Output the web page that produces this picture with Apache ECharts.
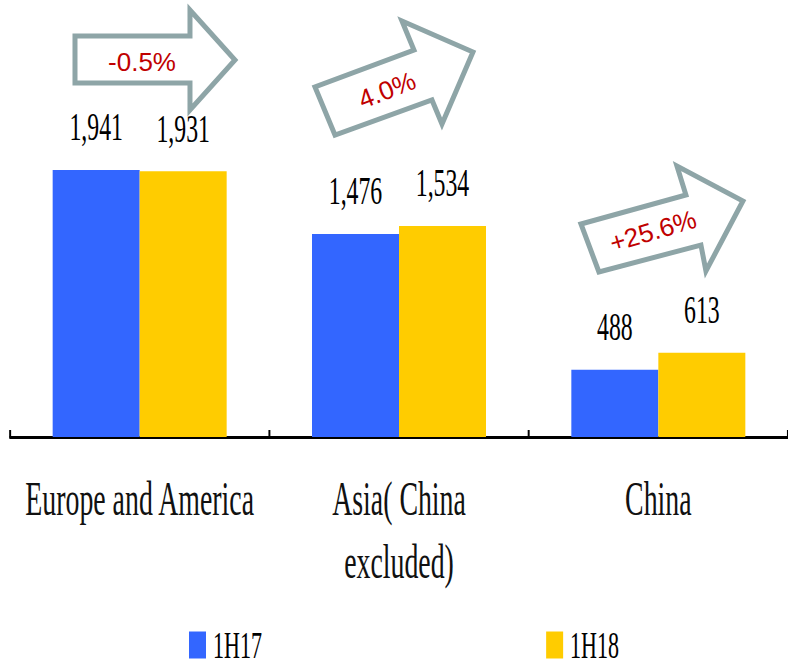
<!DOCTYPE html>
<html>
<head>
<meta charset="utf-8">
<script src="https://cdn.jsdelivr.net/npm/echarts@6/dist/echarts.min.js"></script>
<style>
html, body { margin: 0; padding: 0; overflow: hidden; background: #fff; width: 788px; height: 668px; }
#chart { position: absolute; left: 0; top: 0; height: 668px; transform-origin: 0 0; }
</style>
</head>
<body>
<div id="chart"></div>
<script>
// ---- data ----
var categories = ['Europe and America', 'Asia( China\nexcluded)', 'China'];
var seriesNames = ['1H17', '1H18'];
var values1H17 = [1941, 1476, 488];
var values1H18 = [1931, 1534, 613];
var growthLabels = ['-0.5%', '4.0%', '+25.6%'];

// the serif texts of the reference are horizontally condensed: draw the chart wider and squeeze it
var S = 0.58;
var W = 788 / S;
var el = document.getElementById('chart');
el.style.width = W + 'px';
el.style.transform = 'scaleX(' + S + ')';

var chart = echarts.init(el, null, { renderer: 'svg', width: W, height: 668 });

var serif = 'Liberation Serif';
var arrowColor = '#8EA5A7';
var redText = '#C00000';

function fmt(v) { return v.toLocaleString('en-US'); }

// decorative block arrows, in screen pixels (group undoes the horizontal squeeze)
var arrows = [
  { pts: [[75,36],[190,36],[190,10],[235,60],[190,110],[190,83],[75,83]], tx: 142, ty: 62, rot: 0 },
  { pts: [[335,135],[315,87],[414,50],[402,21],[473,52],[442,124],[432,100]], tx: 387, ty: 90, rot: 0.37 },
  { pts: [[599,272],[581,224],[686,195],[677,166],[743,201],[706,271],[701,245]], tx: 653, ty: 231, rot: 0.29 }
];
var arrowChildren = [];
arrows.forEach(function (a, i) {
  arrowChildren.push({
    type: 'polygon',
    shape: { points: a.pts },
    style: { fill: '#fff', stroke: arrowColor, lineWidth: 5, lineJoin: 'miter' }
  });
  arrowChildren.push({
    type: 'text',
    x: a.tx, y: a.ty, rotation: a.rot,
    style: {
      text: growthLabels[i], fill: redText,
      font: '26px "Liberation Sans", Arial, sans-serif',
      align: 'center', verticalAlign: 'middle'
    }
  });
});

var labelStyle = {
  show: true, position: 'top', distance: 23,
  formatter: function (p) { return fmt(p.value); },
  fontFamily: serif, fontSize: 41, lineHeight: 41, color: '#000'
};

chart.setOption({
  animation: false,
  backgroundColor: '#fff',
  grid: { left: 10 / S, width: 784 / S, top: 93, bottom: 231, containLabel: false },
  legend: {
    data: seriesNames,
    left: 189 / S, top: 626,
    padding: 0,
    icon: 'rect',
    itemWidth: 17 / S, itemHeight: 27,
    itemGap: 490,
    textStyle: { fontFamily: serif, fontSize: 38, lineHeight: 29, color: '#000', padding: [0, 0, 0, 7] }
  },
  xAxis: {
    type: 'category',
    data: categories,
    axisLine: { show: true, lineStyle: { color: '#000', width: 3 } },
    axisTick: { show: true, inside: true, length: 7, lineStyle: { color: '#000', width: 3.4 } },
    axisLabel: {
      interval: 0, margin: 30,
      fontFamily: serif, fontSize: 48, lineHeight: 63, color: '#111'
    },
    splitLine: { show: false }
  },
  yAxis: { type: 'value', min: 0, max: 2500, show: false, splitLine: { show: false } },
  series: [
    { name: seriesNames[0], type: 'bar', data: values1H17, barWidth: 87 / S, barGap: '0%',
      itemStyle: { color: '#3366FF' }, label: labelStyle },
    { name: seriesNames[1], type: 'bar', data: values1H18, barWidth: 87 / S, barGap: '0%',
      itemStyle: { color: '#FFCC00' }, label: labelStyle }
  ],
  graphic: [ { type: 'group', x: 0, y: 0, scaleX: 1 / S, children: arrowChildren } ]
});
</script>
</body>
</html>
